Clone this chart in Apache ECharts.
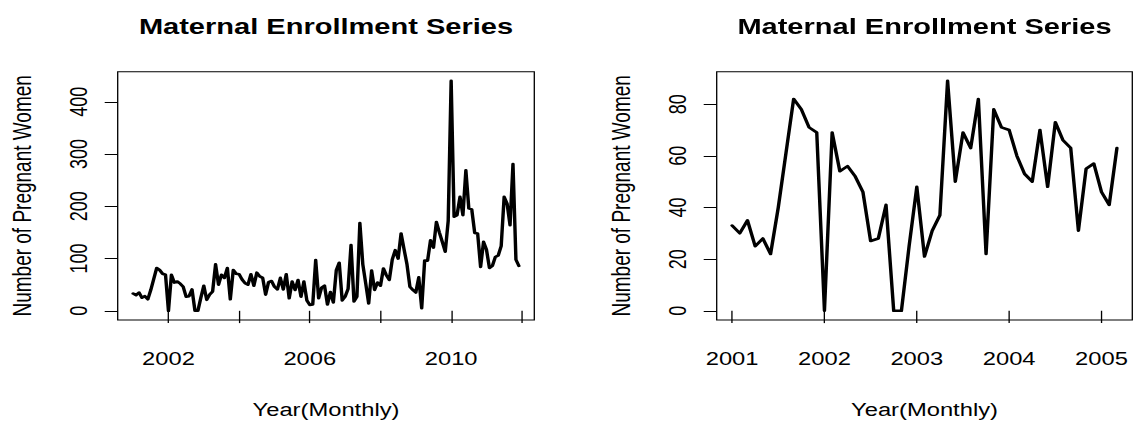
<!DOCTYPE html>
<html>
<head>
<meta charset="utf-8">
<script src="https://cdn.jsdelivr.net/npm/echarts@6/dist/echarts.min.js"></script>
<style>
  html, body { margin: 0; padding: 0; background: #fff; overflow: hidden; }
  #wrap { width: 1135px; height: 424px; overflow: hidden; position: relative; background: #fff; }
  #chart { position: absolute; left: 0; top: 0; height: 424px; transform-origin: 0 0; }
</style>
</head>
<body>
<div id="wrap"><div id="chart"></div></div>
<script>
// Monthly maternal enrollment counts, January 2001 to December 2011
const startYear = 2001;
const enrollment = [
  33, 30, 35, 25, 28, 22, 40, 61, 82, 78, 71, 69,
  0, 69, 54, 56, 52, 46, 27, 28, 41, 0, 0, 25,
  48, 21, 31, 37, 89, 50, 69, 63, 82, 22, 78, 71,
  70, 60, 53, 50, 70, 48, 73, 66, 63, 31, 55, 57,
  46, 41, 63, 41, 70, 24, 56, 40, 59, 27, 56, 20,
  11, 12, 97, 24, 44, 48, 12, 36, 16, 78, 92, 20,
  27, 42, 126, 18, 27, 168, 89, 52, 14, 77, 40, 54,
  48, 81, 68, 59, 98, 116, 100, 148, 118, 89, 46, 40,
  35, 64, 5, 96, 96, 135, 121, 170, 150, 132, 113, 172,
  440, 180, 183, 218, 183, 269, 196, 194, 149, 148, 84, 132,
  117, 82, 86, 103, 106, 124, 218, 205, 164, 281, 98, 86
];
// The right panel zooms into the first 51 months (Jan 2001 - Mar 2005)
const shortMonths = 51;

const titleText = 'Maternal Enrollment Series';
const xTitle = 'Year(Monthly)';
const yTitle = 'Number of Pregnant Women';

const leftXTicks = [2002, 2004, 2006, 2008, 2010, 2012];
const leftXLabels = [2002, 2006, 2010];
const rightXTicks = [2001, 2002, 2003, 2004, 2005];
const leftYTicks = [0, 100, 200, 300, 400];
const rightYTicks = [0, 20, 40, 60, 80];

// ---- layout ----
const SX = 1.32;                // horizontal stretch of the whole drawing
const W = 1135 / SX;
const FONT = 'Liberation Sans, Arial, Helvetica, sans-serif';
const BASE = 18;

const boxTop = 71.7, boxBottom = 321.7;
const leftBox = [117.7, 534.3];
const rightBox = [716.7, 1132.3];

function toPairs(vals) {
  return vals.map((v, i) => [startYear + i / 12, v]);
}
// R-style 4% padding around the data range
function padded(lo, hi) {
  const d = (hi - lo) * 0.04;
  return [lo - d, hi + d];
}

const fullData = toPairs(enrollment);
const shortData = fullData.slice(0, shortMonths);

const leftXR = padded(fullData[0][0], fullData[fullData.length - 1][0]);
const rightXR = padded(shortData[0][0], shortData[shortData.length - 1][0]);
const leftYR = padded(Math.min(...enrollment), Math.max(...enrollment));
const shortVals = enrollment.slice(0, shortMonths);
const rightYR = padded(Math.min(...shortVals), Math.max(...shortVals));

function grid(box) {
  return {
    left: box[0] / SX, width: (box[1] - box[0]) / SX,
    top: boxTop, height: boxBottom - boxTop,
    show: true, borderColor: '#000', borderWidth: 1, backgroundColor: 'transparent'
  };
}

function xAxis(idx, range, ticks, labels) {
  return {
    gridIndex: idx, type: 'value', min: range[0], max: range[1],
    axisLine: { show: false },
    splitLine: { show: false },
    axisTick: { show: true, length: 12.3, lineStyle: { color: '#000', width: 1 }, customValues: ticks },
    axisLabel: {
      customValues: labels, formatter: v => String(Math.round(v)),
      color: '#000', fontFamily: FONT, fontSize: BASE, margin: 30
    },
    name: xTitle, nameLocation: 'middle', nameGap: 81,
    nameTextStyle: { color: '#000', fontFamily: FONT, fontSize: BASE }
  };
}

function yAxis(idx, range, ticks) {
  return {
    gridIndex: idx, type: 'value', min: range[0], max: range[1],
    axisLine: { show: false },
    splitLine: { show: false },
    axisTick: { show: true, length: 13 / SX, lineStyle: { color: '#000', width: 1 }, customValues: ticks },
    axisLabel: {
      customValues: ticks, rotate: 90, formatter: v => String(Math.round(v)),
      color: '#000', fontFamily: FONT, fontSize: BASE, margin: 38.9 / SX - BASE / 2
    },
    name: yTitle, nameLocation: 'middle', nameGap: 94.7 / SX - 19 / 2,
    nameTextStyle: { color: '#000', fontFamily: FONT, fontSize: 19 }
  };
}

function title(cx) {
  return {
    text: titleText, left: cx / SX, top: 15, textAlign: 'center', padding: 0,
    textStyle: { color: '#000', fontFamily: FONT, fontSize: 22, fontWeight: 'bold' }
  };
}

function line(idx, data) {
  return {
    type: 'line', xAxisIndex: idx, yAxisIndex: idx, data: data,
    showSymbol: false, symbol: 'none', silent: true,
    lineStyle: { color: '#000', width: 2.6, join: 'round', cap: 'round' }
  };
}

const el = document.getElementById('chart');
el.style.width = W + 'px';
el.style.transform = 'scaleX(' + SX + ')';
const chart = echarts.init(el, null, { renderer: 'svg', width: W, height: 424 });
chart.setOption({
  animation: false,
  backgroundColor: '#fff',
  title: [
    title((leftBox[0] + leftBox[1]) / 2),
    title((rightBox[0] + rightBox[1]) / 2)
  ],
  grid: [grid(leftBox), grid(rightBox)],
  xAxis: [
    xAxis(0, leftXR, leftXTicks, leftXLabels),
    xAxis(1, rightXR, rightXTicks, rightXTicks)
  ],
  yAxis: [
    yAxis(0, leftYR, leftYTicks),
    yAxis(1, rightYR, rightYTicks)
  ],
  series: [line(0, fullData), line(1, shortData)]
});
</script>
</body>
</html>
